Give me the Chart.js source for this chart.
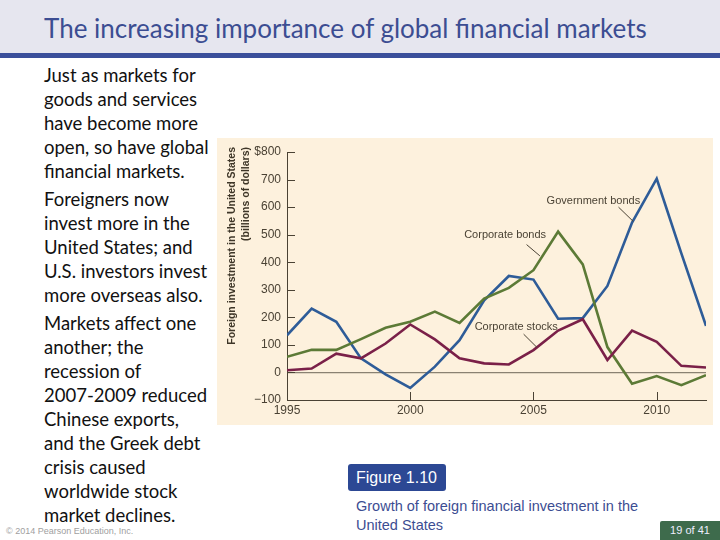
<!DOCTYPE html>
<html>
<head>
<meta charset="utf-8">
<script src="https://cdn.jsdelivr.net/npm/chart.js@4"></script>
<style>
  body { margin: 0; width: 720px; height: 540px; position: relative; background: #fff; overflow: hidden; font-family: Lato, sans-serif; }
  .header { position: absolute; left: 0; top: 0; width: 720px; height: 53px; background: #e6e6ef; }
  .bar { position: absolute; left: 0; top: 53px; width: 720px; height: 5px; background: #3b4f9b; }
  .title { position: absolute; left: 44px; top: 12px; font-size: 26px; color: #3c4d92; white-space: nowrap; }
  .body { position: absolute; left: 44px; top: 63px; font-size: 18.5px; line-height: 24px; color: #111; white-space: nowrap; }
  .body p { margin: 0 0 4px 0; }
  .panel { position: absolute; left: 217px; top: 138px; width: 496px; height: 287px; background: #fdf1dd; }
  .fig { position: absolute; left: 348px; top: 464px; width: 98px; height: 27px; background: #2c4894; border-radius: 3px; color: #fff; font-family: "Liberation Sans", Arial, sans-serif; font-size: 16px; line-height: 27px; text-indent: 8px; }
  .cap { position: absolute; left: 356px; top: 497px; font-family: "Liberation Sans", Arial, sans-serif; font-size: 14.5px; line-height: 19px; color: #3c4d92; }
  .copy { position: absolute; left: 6px; top: 526px; font-family: "Liberation Sans", Arial, sans-serif; font-size: 9px; color: #a0a0a0; }
  .page { position: absolute; left: 660px; top: 521px; width: 60px; height: 19px; background: #3e6b4c; color: #eef; font-family: "Liberation Sans", Arial, sans-serif; font-size: 11px; line-height: 19px; text-align: center; border-radius: 2px 0 0 0; }
</style>
</head>
<body>
<div class="header"></div>
<div class="bar"></div>
<div class="title">The increasing importance of global financial markets</div>
<div class="body">
  <p>Just as markets for<br>goods and services<br>have become more<br>open, so have global<br>financial markets.</p>
  <p>Foreigners now<br>invest more in the<br>United States; and<br>U.S. investors invest<br>more overseas also.</p>
  <p>Markets affect one<br>another; the<br>recession of<br>2007-2009 reduced<br>Chinese exports,<br>and the Greek debt<br>crisis caused<br>worldwide stock<br>market declines.</p>
</div>
<div class="panel"><canvas id="myChart" width="496" height="287"></canvas></div>
<div class="fig">Figure 1.10</div>
<div class="cap">Growth of foreign financial investment in the<br>United States</div>
<div class="copy">© 2014 Pearson Education, Inc.</div>
<div class="page">19 of 41</div>
<script>
// datos (miles de millones de dolares)
const years = [1995, 1996, 1997, 1998, 1999, 2000, 2001, 2002, 2003, 2004, 2005, 2006, 2007, 2008, 2009, 2010, 2011, 2012]
const governmentBonds = [135, 232, 184, 51, -7, -56, 21, 117, 262, 350, 337, 195, 197, 314, 544, 703, 432, 169]
const corporateBonds = [57, 82, 82, 121, 162, 184, 221, 180, 268, 307, 371, 511, 392, 92, -41, -13, -46, -10]
const corporateStocks = [8, 14, 68, 51, 105, 174, 120, 51, 33, 29, 81, 152, 193, 45, 152, 111, 24, 18]
const yearTicks = [1995, 2000, 2005, 2010]
const valueTicks = [-100, 0, 100, 200, 300, 400, 500, 600, 700, 800]

// etiquetas con su linea guia: [texto, x, y, x1, y1, x2, y2] en unidades de datos
const callouts = [
  ['Government bonds', 2007.43, 624, 2008.45, 600, 2009.05, 548],
  ['Corporate bonds', 2003.85, 498, 2004.72, 464, 2005.26, 423],
  ['Corporate stocks', 2004.3, 164, 2004.6, 139, 2005.14, 91]
]

function toPoints(values) {
  return values.map((v, i) => ({ x: years[i], y: v }))
}

const inkColor = '#4a4234'
const axisFont = { size: 12, family: '"Liberation Sans", Arial, sans-serif' }

const extras = {
  id: 'extras',
  afterDraw(chart) {
    const { ctx, scales: { x, y }, chartArea } = chart
    ctx.save()
    // marcas de los ejes hacia adentro
    ctx.strokeStyle = inkColor
    ctx.lineWidth = 1
    ctx.beginPath()
    valueTicks.forEach(v => {
      const py = Math.round(y.getPixelForValue(v)) + 0.5
      ctx.moveTo(chartArea.left, py)
      ctx.lineTo(chartArea.left + 8, py)
    })
    yearTicks.forEach(t => {
      if (t === 1995) return
      const px = Math.round(x.getPixelForValue(t)) + 0.5
      ctx.moveTo(px, chartArea.bottom)
      ctx.lineTo(px, chartArea.bottom - 8)
    })
    ctx.stroke()

    // etiquetas de las series
    ctx.font = '11px "Liberation Sans", Arial, sans-serif'
    ctx.fillStyle = inkColor
    ctx.textAlign = 'center'
    ctx.textBaseline = 'middle'
    callouts.forEach(c => {
      ctx.fillText(c[0], x.getPixelForValue(c[1]), y.getPixelForValue(c[2]))
      ctx.beginPath()
      ctx.moveTo(x.getPixelForValue(c[3]), y.getPixelForValue(c[4]))
      ctx.lineTo(x.getPixelForValue(c[5]), y.getPixelForValue(c[6]))
      ctx.stroke()
    })

    // titulo del eje y
    ctx.font = 'bold 10.5px "Liberation Sans", Arial, sans-serif'
    ctx.fillStyle = '#3e3628'
    ctx.textAlign = 'right'
    ctx.translate(15, 9)
    ctx.rotate(-Math.PI / 2)
    ctx.fillText('Foreign investment in the United States', 0, 0)
    ctx.fillText('(billions of dollars)', 0, 14)
    ctx.restore()
  }
}

document.addEventListener('DOMContentLoaded', () => {
  const ctx = document.getElementById('myChart')

  const serie = (label, values, color) => ({
    label: label,
    data: toPoints(values),
    borderColor: color,
    borderWidth: 2.6,
    pointRadius: 0,
    tension: 0,
    fill: false
  })

  new Chart(ctx, {
    type: 'line',
    data: {
      datasets: [
        serie('Corporate stocks', corporateStocks, '#7a2048'),
        serie('Corporate bonds', corporateBonds, '#5c7a36'),
        serie('Government bonds', governmentBonds, '#2e5c98')
      ]
    },
    options: {
      responsive: false,
      animation: false,
      layout: { padding: { left: 0, right: 7, top: 14, bottom: 0 } },
      plugins: { legend: { display: false }, tooltip: { enabled: false } },
      scales: {
        x: {
          type: 'linear',
          min: 1995,
          max: 2012,
          afterBuildTicks: s => { s.ticks = yearTicks.map(v => ({ value: v })) },
          afterFit: s => { s.height = 25 },
          grid: { display: false, drawTicks: false },
          border: { display: true, color: inkColor, width: 1 },
          ticks: { color: inkColor, font: axisFont, padding: 3, maxRotation: 0, callback: v => String(v) }
        },
        y: {
          min: -100,
          max: 800,
          afterBuildTicks: s => { s.ticks = valueTicks.map(v => ({ value: v })) },
          afterFit: s => { s.width = 70 },
          grid: {
            drawTicks: false,
            color: c => (c.tick && c.tick.value === 0) ? '#8a8272' : 'rgba(0,0,0,0)',
            lineWidth: 1.2
          },
          border: { display: true, color: inkColor, width: 1 },
          ticks: {
            color: inkColor,
            font: axisFont,
            padding: 6,
            callback: v => v === 800 ? '$800' : (v < 0 ? '\u2212' + Math.abs(v) : String(v))
          }
        }
      }
    },
    plugins: [extras]
  })
})
</script>
</body>
</html>
